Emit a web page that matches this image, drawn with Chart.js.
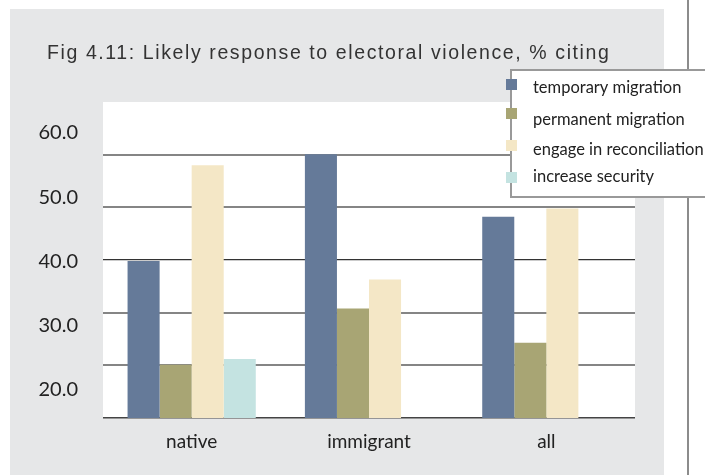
<!DOCTYPE html>
<html>
<head>
<meta charset="utf-8">
<script src="https://cdn.jsdelivr.net/npm/chart.js@4"></script>
<style>
  html, body { margin: 0; padding: 0; background: #fff; }
  #wrap { width: 705px; height: 475px; }
</style>
</head>
<body>
<div id="wrap"><canvas id="chart" width="705" height="475"></canvas></div>
<script>
const categories = ['native', 'immigrant', 'all'];
const seriesNames = ['temporary migration', 'permanent migration', 'engage in reconciliation', 'increase security'];
const temporaryMigration = [39.8, 60.1, 48.2];
const permanentMigration = [20.1, 30.8, 24.3];
const engageReconciliation = [58.0, 36.3, 49.8];
const increaseSecurity = [21.2, null, null];
const tickLabels = [20, 30, 40, 50, 60];
const colors = ['#657a99', '#a8a574', '#f4e7c6', '#c4e3e1'];
const titleText = 'Fig 4.11: Likely response to electoral violence, % citing';

// grey panel, white plot area and the rule on the right
const panel = {
  id: 'panel',
  beforeDraw(chart) {
    const { ctx, chartArea: a } = chart;
    ctx.save();
    ctx.fillStyle = '#fff';
    ctx.fillRect(0, 0, chart.width, chart.height);
    ctx.fillStyle = '#e6e7e8';
    ctx.fillRect(10, 9, 654, chart.height - 9);
    ctx.fillStyle = '#fff';
    ctx.fillRect(a.left, a.top, a.right - a.left, a.bottom - a.top);
    ctx.fillStyle = '#8c8c8c';
    ctx.fillRect(687, 0, 2, chart.height);
    // caption
    ctx.fillStyle = '#333';
    ctx.font = '19.5px "Liberation Sans", Arial, sans-serif';
    ctx.letterSpacing = '1.6px';
    ctx.textBaseline = 'alphabetic';
    ctx.fillText(titleText, 47, 59);
    ctx.restore();
  }
};

// boxed legend sitting over the top right corner
const boxLegend = {
  id: 'boxLegend',
  afterDraw(chart) {
    const ctx = chart.ctx;
    const markTop = [79, 108, 140, 172];
    const textMid = [88, 120, 150, 177];
    ctx.save();
    ctx.fillStyle = '#fff';
    ctx.fillRect(511, 70, 200, 127);
    ctx.strokeStyle = '#999';
    ctx.lineWidth = 2;
    ctx.strokeRect(511, 70, 200, 127);
    ctx.font = '16.5px Lato, sans-serif';
    ctx.textBaseline = 'middle';
    chart.data.datasets.forEach((ds, i) => {
      ctx.fillStyle = ds.backgroundColor;
      ctx.fillRect(506, markTop[i], 11, 11);
      ctx.fillStyle = '#222';
      ctx.fillText(ds.label, 533, textMid[i]);
    });
    ctx.restore();
  }
};

const seriesValues = [temporaryMigration, permanentMigration, engageReconciliation, increaseSecurity];

new Chart(document.getElementById('chart'), {
  type: 'bar',
  data: {
    labels: categories,
    datasets: seriesNames.map((name, i) => ({
      label: name,
      data: seriesValues[i],
      backgroundColor: colors[i],
      borderWidth: 0,
      yAxisID: 'y'
    }))
  },
  options: {
    responsive: false,
    animation: false,
    categoryPercentage: 0.723,
    barPercentage: 1,
    layout: { padding: { left: 10, right: 70, top: 102, bottom: 0 } },
    plugins: { legend: { display: false }, tooltip: { enabled: false } },
    scales: {
      x: {
        grid: { display: false },
        border: { display: false },
        ticks: { color: '#222', font: { family: 'Lato', size: 19 }, padding: 4 },
        afterFit: s => { s.height = 57; }
      },
      y: {
        position: 'left',
        min: 10,
        max: 70,
        ticks: { display: false, stepSize: 10 },
        border: { display: false },
        grid: {
          drawTicks: false,
          color: c => {
            const v = c.tick.value;
            if (v === 70) return 'rgba(0,0,0,0)';
            if (v === 40) return '#333';
            if (v === 10) return '#444';
            return '#858585';
          },
          lineWidth: c => {
            const v = c.tick.value;
            if (v === 40) return 1.2;
            if (v === 10) return 1.5;
            return 2;
          }
        },
        afterFit: s => { s.width = 0; }
      },
      yt: {
        position: 'left',
        min: 15.6,
        max: 64.8,
        grid: { display: false, drawTicks: false },
        border: { display: false },
        afterBuildTicks: s => { s.ticks = tickLabels.map(v => ({ value: v })); },
        ticks: {
          callback: v => Number(v).toFixed(1),
          color: '#222',
          font: { family: 'Lato', size: 20 },
          padding: 25
        },
        afterFit: s => { s.width = 93; }
      }
    }
  },
  plugins: [panel, boxLegend]
});
</script>
</body>
</html>
